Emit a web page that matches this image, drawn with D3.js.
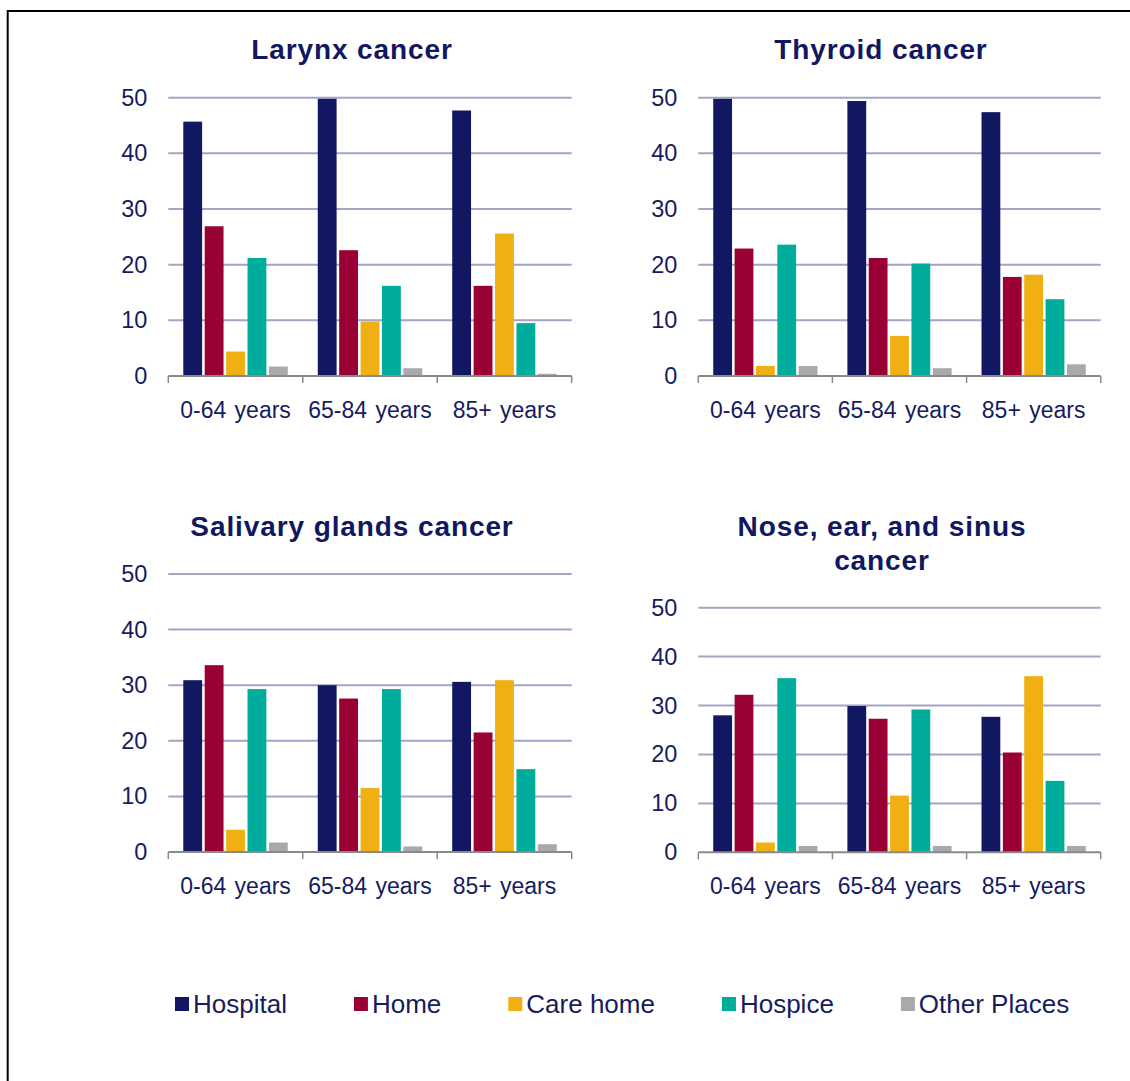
<!DOCTYPE html>
<html>
<head>
<meta charset="utf-8">
<script src="https://cdn.jsdelivr.net/npm/d3@7"></script>
<style>
  body { margin: 0; background: #fff; }
  text { font-family: "Liberation Sans", Arial, sans-serif; }
</style>
</head>
<body>
<svg id="chart"></svg>
<script>
var width = 1130,
    height = 1081;

var ageGroups = ["0-64 years", "65-84 years", "85+ years"];
var places = ["Hospital", "Home", "Care home", "Hospice", "Other Places"];
var placeColors = ["#111760", "#990033", "#f0b014", "#00ac9c", "#a7a9ac"];
var yTicks = [0, 10, 20, 30, 40, 50];

// values per age group, in the order of places
var larynx = [
    [45.7, 26.9, 4.4, 21.2, 1.7],
    [49.8, 22.6, 9.8, 16.2, 1.4],
    [47.7, 16.2, 25.6, 9.5, 0.4]
];
var thyroid = [
    [49.8, 22.9, 1.8, 23.6, 1.8],
    [49.4, 21.2, 7.2, 20.2, 1.4],
    [47.4, 17.8, 18.2, 13.8, 2.1]
];
var salivary = [
    [30.9, 33.6, 4.0, 29.3, 1.7],
    [30.0, 27.6, 11.5, 29.3, 1.0],
    [30.6, 21.5, 30.9, 14.9, 1.4]
];
var nose = [
    [28.0, 32.2, 2.0, 35.6, 1.3],
    [29.9, 27.3, 11.6, 29.2, 1.3],
    [27.7, 20.4, 36.0, 14.6, 1.3]
];

var textColor = "#161c5e";

var svg = d3.select("#chart")
    .attr("width", width)
    .attr("height", height);

svg.append("rect")
    .attr("x", 7.7)
    .attr("y", 11)
    .attr("width", width + 20)
    .attr("height", height + 20)
    .attr("fill", "none")
    .attr("stroke", "#000")
    .attr("stroke-width", 2);

var panels = [
    {title: ["Larynx cancer"], data: larynx, left: 168.3, right: 571.7, top: 97.7, bottom: 376, titleX: 352, titleY: 59},
    {title: ["Thyroid cancer"], data: thyroid, left: 698.3, right: 1100.7, top: 97.7, bottom: 376, titleX: 881, titleY: 59},
    {title: ["Salivary glands cancer"], data: salivary, left: 168.3, right: 571.7, top: 574, bottom: 852, titleX: 352, titleY: 536},
    {title: ["Nose, ear, and sinus", "cancer"], data: nose, left: 698.3, right: 1100.7, top: 607.7, bottom: 852.3, titleX: 882, titleY: 536}
];

panels.forEach(drawPanel);

function drawPanel(p) {
    var g = svg.append("g");

    var x0 = d3.scaleBand()
        .domain(ageGroups)
        .range([p.left, p.right]);

    var x1 = d3.scaleBand()
        .domain(places)
        .range([0, x0.bandwidth()])
        .paddingInner(0.12)
        .paddingOuter(0.7);

    var y = d3.scaleLinear()
        .domain([0, 50])
        .range([p.bottom, p.top]);

    // gridlines
    g.selectAll(".grid")
        .data(yTicks.filter(function(d) { return d > 0; }))
      .enter().append("line")
        .attr("x1", p.left)
        .attr("x2", p.right)
        .attr("y1", function(d) { return y(d); })
        .attr("y2", function(d) { return y(d); })
        .attr("stroke", "#a2a4c8")
        .attr("stroke-width", 2);

    // y labels
    g.selectAll(".ylab")
        .data(yTicks)
      .enter().append("text")
        .attr("x", p.left - 21)
        .attr("y", function(d) { return y(d) + 8; })
        .attr("text-anchor", "end")
        .attr("fill", textColor)
        .style("font-size", "23.5px")
        .text(function(d) { return d; });

    // bars
    var groups = g.selectAll(".grp")
        .data(p.data)
      .enter().append("g")
        .attr("transform", function(d, i) { return "translate(" + x0(ageGroups[i]) + ",0)"; });

    groups.selectAll("rect")
        .data(function(d) { return d; })
      .enter().append("rect")
        .attr("x", function(d, i) { return x1(places[i]); })
        .attr("width", x1.bandwidth())
        .attr("y", function(d) { return y(d); })
        .attr("height", function(d) { return y(0) - y(d); })
        .attr("fill", function(d, i) { return placeColors[i]; });

    // x axis
    var axis = g.append("g")
        .attr("transform", "translate(0," + p.bottom + ")")
        .call(d3.axisBottom(x0).tickSize(0).tickFormat(""));
    axis.select(".domain").remove();

    g.append("line")
        .attr("x1", p.left)
        .attr("x2", p.right)
        .attr("y1", p.bottom)
        .attr("y2", p.bottom)
        .attr("stroke", "#8a8a8a")
        .attr("stroke-width", 2);

    var bounds = ageGroups.map(function(d) { return x0(d); }).concat([p.right]);
    g.selectAll(".xtick")
        .data(bounds)
      .enter().append("line")
        .attr("x1", function(d) { return d; })
        .attr("x2", function(d) { return d; })
        .attr("y1", p.bottom)
        .attr("y2", p.bottom + 7)
        .attr("stroke", "#8a8a8a")
        .attr("stroke-width", 1.5);

    g.selectAll(".xlab")
        .data(ageGroups)
      .enter().append("text")
        .attr("x", function(d) { return x0(d) + x0.bandwidth() / 2; })
        .attr("y", p.bottom + 42)
        .attr("text-anchor", "middle")
        .attr("fill", textColor)
        .style("font-size", "23px")
        .style("word-spacing", "2px")
        .text(function(d) { return d; });

    // title
    g.selectAll(".title")
        .data(p.title)
      .enter().append("text")
        .attr("x", p.titleX)
        .attr("y", function(d, i) { return p.titleY + i * 34; })
        .attr("text-anchor", "middle")
        .attr("fill", "#111760")
        .style("font-size", "28px")
        .style("font-weight", "bold")
        .style("letter-spacing", "0.9px")
        .text(function(d) { return d; });
}

// legend
var legend = svg.append("g");
var lx = 175;
places.forEach(function(name, i) {
    legend.append("rect")
        .attr("x", lx)
        .attr("y", 997)
        .attr("width", 14)
        .attr("height", 14)
        .attr("fill", placeColors[i]);
    var t = legend.append("text")
        .attr("x", lx + 18)
        .attr("y", 1013)
        .attr("fill", textColor)
        .style("font-size", "26px")
        .text(name);
    lx += 18 + t.node().getComputedTextLength() + 67;
});
</script>
</body>
</html>
